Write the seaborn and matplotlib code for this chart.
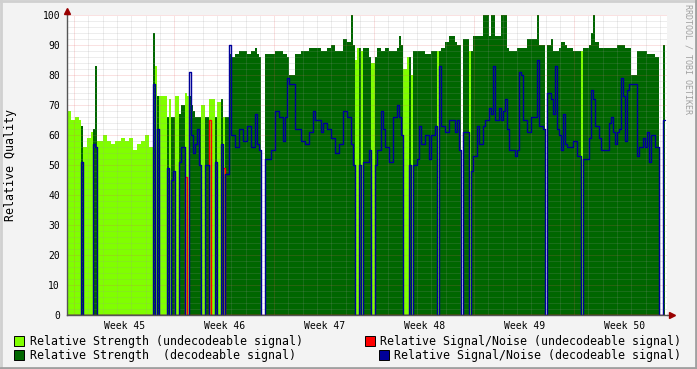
import numpy as np
import matplotlib
matplotlib.use("Agg")
import matplotlib.pyplot as plt
import seaborn as sns
from matplotlib.patches import Rectangle
from matplotlib.lines import Line2D

# ---------------- data ----------------
STEP_DAYS = 0.14          # consolidation step of the archive (days)
SPAN_DAYS = 42.0          # six weeks shown
FIRST_WEEK_START = 0.5    # Monday of week 45, days after graph start
week_labels = ["Week 45", "Week 46", "Week 47", "Week 48", "Week 49", "Week 50"]
y_ticks = list(range(0, 101, 10))

# runs of consecutive samples: length (samples), kind (U=undecodeable, D=decodeable, N=no data)
run_len = [
    2, 2, 2, 1, 1, 2, 2, 1, 1, 1, 3, 2, 2, 2, 3, 2, 2, 2, 2, 2, 2, 2, 2,
    1, 1, 1, 4, 1, 1, 1, 1, 2, 1, 2, 1, 1, 1, 1, 1, 1, 1, 1, 2, 2, 1, 2, 1, 2, 1, 1, 2, 1,
    2, 2, 2, 2, 2, 2, 1, 1, 1, 2, 3, 2, 2, 2, 1, 1, 1, 3, 3, 2, 2, 2, 1, 3, 1, 2, 2, 2, 2, 2, 2, 2, 1, 1,
    1, 1, 1, 1, 3, 1, 2, 1, 2, 1, 1, 2, 2, 2, 1, 1, 1, 2, 1, 1, 1, 2, 1, 1, 2, 2, 1, 2, 1, 1, 1, 2, 2, 3, 1, 1, 1, 1,
    3, 1, 1, 2, 1, 2, 1, 2, 1, 1, 1, 2, 1, 1, 1, 1, 1, 3, 1, 1, 1, 1, 2, 2, 3, 1, 2, 1, 1,
    2, 1, 1, 1, 1, 1, 1, 1, 1, 3, 2, 2, 1, 3, 1, 1, 1, 2, 1, 4, 1, 1, 1, 1, 1, 1, 1, 1, 1, 1,
    1, 3, 1, 2, 1, 1, 1, 1, 2, 2, 2, 1,
]
run_kind = list(
    "UUUUDUUUDD" "UUUUUUUUUUUUU"
    "DUDUDUDDUD" "DUUDDDDDDU" "DUUDUDUDD"
    "DDDDDDDDDN" "DDDDDDDDDD" "DDDDDDDDDD" "DDDD"
    "UUDUDDUDDD" "DDDDDDDUUD" "UDDDDDDDDU" "DDDDDDDN"
    "DUDDDDDDDD" "DDDDDDDDDD" "DDDDDDDDN"
    "DDDDDDDDDDDD" "U" "DDDDDDDDDDDDDDDDDDDDDDDDDDD" "N" "D"
)
run_strength = [
    68, 65, 66, 65, 63, 56, 59, 61, 62, 83, 58, 60, 58, 57, 58, 59, 58, 59, 55, 57, 58, 60, 56,
    94, 83, 73, 73, 66, 72, 66, 66, 73, 67, 70, 74, 73, 73, 70, 68, 66, 66, 66, 70,
    66, 72, 72, 66, 71, 72, 66, 66, 87,
    86, 87, 88, 88, 87, 88, 89, 87, 86, 0, 87, 87, 88, 88, 87, 87, 86, 80, 87, 88,
    88, 89, 89, 89, 88, 88, 89, 90, 88, 88, 92, 91, 100, 90,
    85, 89, 89, 88, 89, 86, 84, 86, 89, 88, 88, 89, 88, 88, 89, 93, 90, 82, 86, 86,
    80, 88, 88, 88, 88, 87, 87, 88, 88, 88, 88, 89, 91, 93, 91, 90, 90, 0,
    92, 88, 88, 93, 93, 93, 100, 100, 93, 100, 100, 93, 93, 100, 100, 100, 89, 88, 88, 89,
    89, 89, 89, 92, 92, 100, 90, 90, 0,
    90, 92, 88, 88, 88, 89, 91, 91, 90, 89, 88, 88, 88, 89, 90, 94, 100, 91, 89, 89,
    89, 89, 89, 89, 90, 90, 90, 90, 89, 89, 89, 80, 88, 88, 88, 88, 87, 87, 87, 86, 0, 90,
]
run_snr_dec = [
    0, 0, 0, 0, 51, 0, 0, 0, 57, 56, 0, 0, 0, 0, 0, 0, 0, 0, 0, 0, 0, 0, 0,
    77, 0, 62, 0, 49, 0, 45, 48, 0, 51, 56, 0, 0, 81, 60, 54, 57, 62, 50, 0,
    50, 0, 0, 51, 0, 57, 0, 47, 90,
    60, 56, 62, 58, 63, 56, 67, 57, 55, 0, 52, 55, 68, 66, 58, 66, 79, 77, 62, 58,
    57, 61, 68, 65, 61, 64, 62, 59, 54, 57, 68, 66, 57, 50,
    0, 0, 50, 0, 51, 55, 0, 50, 55, 68, 62, 56, 51, 66, 70, 66, 60, 0, 0, 50,
    0, 50, 52, 63, 57, 60, 52, 60, 63, 0, 83, 63, 61, 65, 61, 65, 55, 0,
    61, 0, 48, 53, 63, 57, 63, 65, 69, 67, 83, 65, 69, 65, 68, 72, 62, 55, 53, 55,
    81, 80, 65, 61, 66, 85, 63, 62, 0,
    74, 72, 67, 83, 62, 60, 55, 67, 57, 56, 58, 53, 0, 52, 59, 75, 72, 63, 59, 55,
    64, 66, 61, 57, 61, 62, 79, 73, 58, 75, 77, 77, 53, 56, 59, 56, 61, 51, 60, 56, 0, 65,
]
run_snr_undec = [0] * 23 + [
    0, 0, 0, 0, 0, 0, 0, 0, 0, 0, 0, 46, 0, 0, 0, 0, 0, 0, 0, 0,
    0, 65, 0, 0, 0, 0, 49, 0, 0,
] + [0] * (34 + 38 + 29 + 42)

# ---------------- build series ----------------
reps = np.array(run_len)
kind = np.repeat(np.array(run_kind), reps)
strength = np.repeat(np.array(run_strength, float), reps)
snr_dec = np.repeat(np.array(run_snr_dec, float), reps)
snr_und = np.repeat(np.array(run_snr_undec, float), reps)
n = len(kind)
edges = np.arange(n + 1) * STEP_DAYS

str_und = np.where(kind == "U", strength, 0.0)
str_dec = np.where(kind == "D", strength, 0.0)
snr_d = np.where(kind == "D", snr_dec, 0.0)
snr_u = np.where(kind == "U", snr_und, 0.0)


def ext(a):
    return np.append(a, a[-1])


# ---------------- figure ----------------
sns.set_theme(style="white")
plt.rcParams["font.family"] = ["DejaVu Sans Mono"]

W, H = 697, 369
fig = plt.figure(figsize=(W / 100, H / 100), dpi=100, facecolor="#f3f3f3")
L, R, T, B = 67, 667, 15, 315
ax = fig.add_axes([L / W, 1 - B / H, (R - L) / W, (B - T) / H])
ax.set_facecolor("white")

# areas as one bar per consolidated sample
ax.bar(edges[:-1], str_und, width=STEP_DAYS, align="edge", color="#80ff00",
       edgecolor="none", linewidth=0, antialiased=False, zorder=1)
ax.bar(edges[:-1], str_dec, width=STEP_DAYS, align="edge", color="#006600",
       edgecolor="none", linewidth=0, antialiased=False, zorder=1.1)

# grid (drawn over the areas, like rrdtool)
GRID_MINOR = (0.6, 0.6, 0.6, 0.35)
GRID_MAJOR = (0.9, 0.35, 0.35, 0.35)
for v in range(2, 100, 2):
    if v % 10:
        ax.axhline(v, color=GRID_MINOR, lw=0.72, ls=(0, (1, 1)), zorder=2)
for v in range(10, 101, 10):
    ax.axhline(v, color=GRID_MAJOR, lw=0.72, ls=(0, (1, 1)), zorder=2, clip_on=False)
week_starts = [FIRST_WEEK_START + 7 * i for i in range(6)]
for d in np.arange(FIRST_WEEK_START, SPAN_DAYS, 1.0):
    is_major = any(abs(d - w) < 1e-6 for w in week_starts)
    ax.axvline(d, color=GRID_MAJOR if is_major else GRID_MINOR, lw=0.72,
               ls=(0, (1, 1)), zorder=2)

ax.stairs(snr_u, edges, baseline=None, color="#ff0000", lw=1.0, zorder=3)
sns.lineplot(x=edges, y=ext(snr_d), drawstyle="steps-post",
             color="#000099", lw=1.0, ax=ax, zorder=3.1, estimator=None)

ax.set_xlim(0, SPAN_DAYS)
ax.set_ylim(0, 100)
ax.set_yticks(y_ticks)
ax.set_yticklabels([str(v) for v in y_ticks])
ax.set_xticks([w + 3.5 for w in week_starts])
ax.set_xticklabels(week_labels)
ax.set_xticks(week_starts, minor=True)
ax.tick_params(axis="both", which="major", length=0, labelsize=7, colors="#000000")
ax.tick_params(axis="y", which="major", pad=5)
ax.tick_params(axis="x", which="major", pad=4)
ax.tick_params(axis="x", which="minor", length=3, color="#cc0000", width=0.8,
               direction="out")
ax.grid(False)
ax.set_xlabel("")
ax.set_ylabel("Relative Quality", fontsize=8.4, color="#000000")
ax.yaxis.set_label_coords(-0.083, 0.5)

for s in ["top", "right"]:
    ax.spines[s].set_visible(False)
for s in ["left", "bottom"]:
    ax.spines[s].set_color("#555555")
    ax.spines[s].set_linewidth(1.0)
    ax.spines[s].set_zorder(5)

# axis extensions with arrows
ax.plot([1.0, 1.006], [0, 0], transform=ax.transAxes, clip_on=False,
        color="#555555", lw=1.0, zorder=5)
ax.plot([1.009], [0], marker=">", ms=4, color="#990000", transform=ax.transAxes,
        clip_on=False, zorder=6)
ax.plot([0, 0], [1.0, 1.01], transform=ax.transAxes, clip_on=False,
        color="#555555", lw=1.0, zorder=5)
ax.plot([0], [1.015], marker="^", ms=4, color="#990000", transform=ax.transAxes,
        clip_on=False, zorder=6)

# legend
legend_entries = [
    (14, 341, "#80ff00", 30, "left", "Relative Strength (undecodeable signal)"),
    (14, 355, "#006600", 30, "left", "Relative Strength  (decodeable signal)"),
    (365, 341, "#ff0000", 681, "right", "Relative Signal/Noise (undecodeable signal)"),
    (379, 355, "#000099", 681, "right", "Relative Signal/Noise (decodeable signal)"),
]
for sx, sy, col, tx, ha, label in legend_entries:
    fig.add_artist(Rectangle((sx / W, 1 - (sy + 5) / H), 10 / W, 10 / H,
                             transform=fig.transFigure, facecolor=col,
                             edgecolor="#000000", lw=0.7))
    fig.text(tx / W, 1 - sy / H, label, ha=ha, va="center", fontsize=8.4,
             color="#000000")

fig.text(688 / W, 1 - 4 / H, "RRDTOOL / TOBI OETIKER", rotation=270, ha="center",
         va="top", fontsize=6, color="#a0a0a0")

# frame
fig.add_artist(Line2D([0, 1], [0.998, 0.998], transform=fig.transFigure, color="#d0d0d0", lw=2))
fig.add_artist(Line2D([0.0015, 0.0015], [0, 1], transform=fig.transFigure, color="#d0d0d0", lw=2))
fig.add_artist(Line2D([0, 1], [0.002, 0.002], transform=fig.transFigure, color="#a0a0a0", lw=2))
fig.add_artist(Line2D([0.9985, 0.9985], [0, 1], transform=fig.transFigure, color="#a0a0a0", lw=2))

fig.savefig("out.png", dpi=100, facecolor=fig.get_facecolor())
